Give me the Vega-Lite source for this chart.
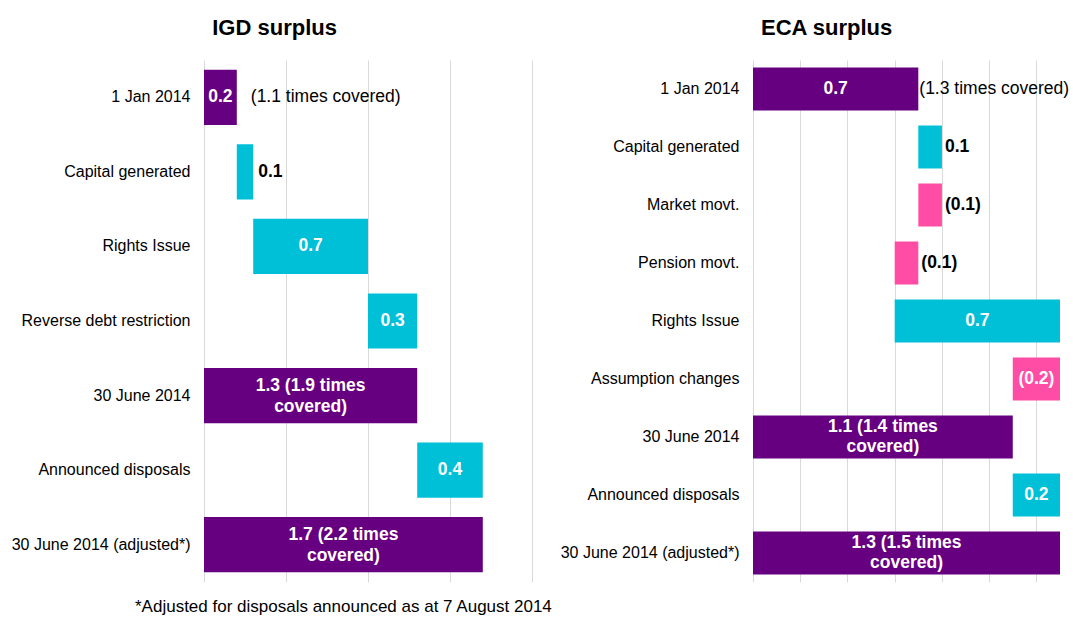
{
  "$schema": "https://vega.github.io/schema/vega-lite/v6.json",
  "background": "white",
  "padding": {"left": 11, "top": 17, "right": 0, "bottom": 5},
  "config": {
    "view": {"stroke": null},
    "font": "Liberation Sans",
    "axis": {"labelFont": "Liberation Sans", "titleFont": "Liberation Sans"}
  },
  "title": {
    "text": "*Adjusted for disposals announced as at 7 August 2014",
    "orient": "bottom",
    "anchor": "start",
    "frame": "group",
    "dx": -69,
    "offset": 17,
    "fontSize": 17,
    "fontWeight": "normal",
    "color": "#000000",
    "font": "Liberation Sans"
  },
  "datasets": {
    "igd": [
      {"cat": "1 Jan 2014", "x0": 0, "x1": 0.2, "type": "total", "label": "0.2", "pos": "in", "note": "(1.1 times covered)"},
      {"cat": "Capital generated", "x0": 0.2, "x1": 0.3, "type": "increase", "label": "0.1", "pos": "out", "note": ""},
      {"cat": "Rights Issue", "x0": 0.3, "x1": 1.0, "type": "increase", "label": "0.7", "pos": "in", "note": ""},
      {"cat": "Reverse debt restriction", "x0": 1.0, "x1": 1.3, "type": "increase", "label": "0.3", "pos": "in", "note": ""},
      {"cat": "30 June 2014", "x0": 0, "x1": 1.3, "type": "total", "label": "1.3 (1.9 times\ncovered)", "pos": "in2", "note": ""},
      {"cat": "Announced disposals", "x0": 1.3, "x1": 1.7, "type": "increase", "label": "0.4", "pos": "in", "note": ""},
      {"cat": "30 June 2014 (adjusted*)", "x0": 0, "x1": 1.7, "type": "total", "label": "1.7 (2.2 times\ncovered)", "pos": "in2", "note": ""}
    ],
    "eca": [
      {"cat": "1 Jan 2014", "x0": 0, "x1": 0.7, "type": "total", "label": "0.7", "pos": "in", "note": "(1.3 times covered)"},
      {"cat": "Capital generated", "x0": 0.7, "x1": 0.8, "type": "increase", "label": "0.1", "pos": "out", "note": ""},
      {"cat": "Market movt.", "x0": 0.7, "x1": 0.8, "type": "decrease", "label": "(0.1)", "pos": "out", "note": ""},
      {"cat": "Pension movt.", "x0": 0.6, "x1": 0.7, "type": "decrease", "label": "(0.1)", "pos": "out", "note": ""},
      {"cat": "Rights Issue", "x0": 0.6, "x1": 1.3, "type": "increase", "label": "0.7", "pos": "in", "note": ""},
      {"cat": "Assumption changes", "x0": 1.1, "x1": 1.3, "type": "decrease", "label": "(0.2)", "pos": "in", "note": ""},
      {"cat": "30 June 2014", "x0": 0, "x1": 1.1, "type": "total", "label": "1.1 (1.4 times\ncovered)", "pos": "in2", "note": ""},
      {"cat": "Announced disposals", "x0": 1.1, "x1": 1.3, "type": "increase", "label": "0.2", "pos": "in", "note": ""},
      {"cat": "30 June 2014 (adjusted*)", "x0": 0, "x1": 1.3, "type": "total", "label": "1.3 (1.5 times\ncovered)", "pos": "in2", "note": ""}
    ]
  },
  "hconcat": [
    {
      "title": {"text": "IGD surplus", "fontSize": 22, "fontWeight": "bold", "anchor": "middle", "frame": "bounds", "offset": 20, "dx": 3, "color": "#000000"},
      "width": 328,
      "height": 522,
      "data": {"name": "igd"},
      "encoding": {
        "y": {
          "field": "cat", "type": "nominal",
          "scale": {"domain": ["1 Jan 2014", "Capital generated", "Rights Issue", "Reverse debt restriction", "30 June 2014", "Announced disposals", "30 June 2014 (adjusted*)"], "paddingInner": 0.26, "paddingOuter": 0.13},
          "axis": {"title": null, "domain": false, "ticks": false, "labelPadding": 14, "labelFontSize": 16, "labelColor": "#000000", "labelLimit": 300}
        }
      },
      "layer": [
        {
          "mark": {"type": "bar"},
          "encoding": {
            "x": {"field": "x0", "type": "quantitative", "scale": {"domain": [0, 2], "nice": false},
              "axis": {"title": null, "labels": false, "ticks": false, "domain": false, "grid": true, "gridColor": "#d9d9d9", "values": [0, 0.5, 1, 1.5, 2]}},
            "x2": {"field": "x1"},
            "color": {"field": "type", "type": "nominal", "scale": {"domain": ["total", "increase", "decrease"], "range": ["#660080", "#00C0D8", "#FF4DA6"]}, "legend": null}
          }
        },
        {
          "transform": [
            {"filter": "datum.pos == 'in'"},
            {"fold": ["x0", "x1"], "as": ["k", "v"]},
            {"aggregate": [{"op": "mean", "field": "v", "as": "mid"}], "groupby": ["cat", "label"]}
          ],
          "mark": {"type": "text", "color": "white", "fontWeight": "bold", "fontSize": 17.5, "align": "center", "baseline": "middle"},
          "encoding": {"x": {"field": "mid", "type": "quantitative"}, "text": {"field": "label"}}
        },
        {
          "transform": [
            {"filter": "datum.pos == 'in2'"},
            {"fold": ["x0", "x1"], "as": ["k", "v"]},
            {"aggregate": [{"op": "mean", "field": "v", "as": "mid"}], "groupby": ["cat", "label"]}
          ],
          "mark": {"type": "text", "color": "white", "fontWeight": "bold", "fontSize": 17.5, "lineBreak": "\n", "lineHeight": 21, "align": "center", "baseline": "middle", "dy": -10},
          "encoding": {"x": {"field": "mid", "type": "quantitative"}, "text": {"field": "label"}}
        },
        {
          "transform": [{"filter": "datum.pos == 'out'"}],
          "mark": {"type": "text", "color": "black", "fontWeight": "bold", "fontSize": 17.5, "align": "left", "baseline": "middle", "dx": 5},
          "encoding": {"x": {"field": "x1", "type": "quantitative"}, "text": {"field": "label"}}
        },
        {
          "transform": [{"filter": "datum.note != ''"}],
          "mark": {"type": "text", "color": "black", "fontSize": 17.5, "align": "left", "baseline": "middle", "dx": 14},
          "encoding": {"x": {"field": "x1", "type": "quantitative"}, "text": {"field": "note"}}
        }
      ]
    },
    {
      "title": {"text": "ECA surplus", "fontSize": 22, "fontWeight": "bold", "anchor": "middle", "frame": "bounds", "offset": 20, "dx": 12, "color": "#000000"},
      "width": 307,
      "height": 522,
      "data": {"name": "eca"},
      "encoding": {
        "y": {
          "field": "cat", "type": "nominal",
          "scale": {"domain": ["1 Jan 2014", "Capital generated", "Market movt.", "Pension movt.", "Rights Issue", "Assumption changes", "30 June 2014", "Announced disposals", "30 June 2014 (adjusted*)"], "paddingInner": 0.26, "paddingOuter": 0.13},
          "axis": {"title": null, "domain": false, "ticks": false, "labelPadding": 14, "labelFontSize": 16, "labelColor": "#000000", "labelLimit": 300}
        }
      },
      "layer": [
        {
          "mark": {"type": "bar"},
          "encoding": {
            "x": {"field": "x0", "type": "quantitative", "scale": {"domain": [0, 1.3], "nice": false},
              "axis": {"title": null, "labels": false, "ticks": false, "domain": false, "grid": true, "gridColor": "#d9d9d9", "values": [0, 0.2, 0.4, 0.6, 0.8, 1.0, 1.2]}},
            "x2": {"field": "x1"},
            "color": {"field": "type", "type": "nominal", "scale": {"domain": ["total", "increase", "decrease"], "range": ["#660080", "#00C0D8", "#FF4DA6"]}, "legend": null}
          }
        },
        {
          "transform": [
            {"filter": "datum.pos == 'in'"},
            {"fold": ["x0", "x1"], "as": ["k", "v"]},
            {"aggregate": [{"op": "mean", "field": "v", "as": "mid"}], "groupby": ["cat", "label"]}
          ],
          "mark": {"type": "text", "color": "white", "fontWeight": "bold", "fontSize": 17.5, "align": "center", "baseline": "middle"},
          "encoding": {"x": {"field": "mid", "type": "quantitative"}, "text": {"field": "label"}}
        },
        {
          "transform": [
            {"filter": "datum.pos == 'in2'"},
            {"fold": ["x0", "x1"], "as": ["k", "v"]},
            {"aggregate": [{"op": "mean", "field": "v", "as": "mid"}], "groupby": ["cat", "label"]}
          ],
          "mark": {"type": "text", "color": "white", "fontWeight": "bold", "fontSize": 17.5, "lineBreak": "\n", "lineHeight": 20, "align": "center", "baseline": "middle", "dy": -10},
          "encoding": {"x": {"field": "mid", "type": "quantitative"}, "text": {"field": "label"}}
        },
        {
          "transform": [{"filter": "datum.pos == 'out'"}],
          "mark": {"type": "text", "color": "black", "fontWeight": "bold", "fontSize": 17.5, "align": "left", "baseline": "middle", "dx": 3},
          "encoding": {"x": {"field": "x1", "type": "quantitative"}, "text": {"field": "label"}}
        },
        {
          "transform": [{"filter": "datum.note != ''"}],
          "mark": {"type": "text", "color": "black", "fontSize": 17.5, "align": "left", "baseline": "middle", "dx": 1},
          "encoding": {"x": {"field": "x1", "type": "quantitative"}, "text": {"field": "note"}}
        }
      ]
    }
  ],
  "spacing": 221,
  "bounds": "flush",
  "resolve": {"scale": {"x": "independent", "y": "independent"}}
}
